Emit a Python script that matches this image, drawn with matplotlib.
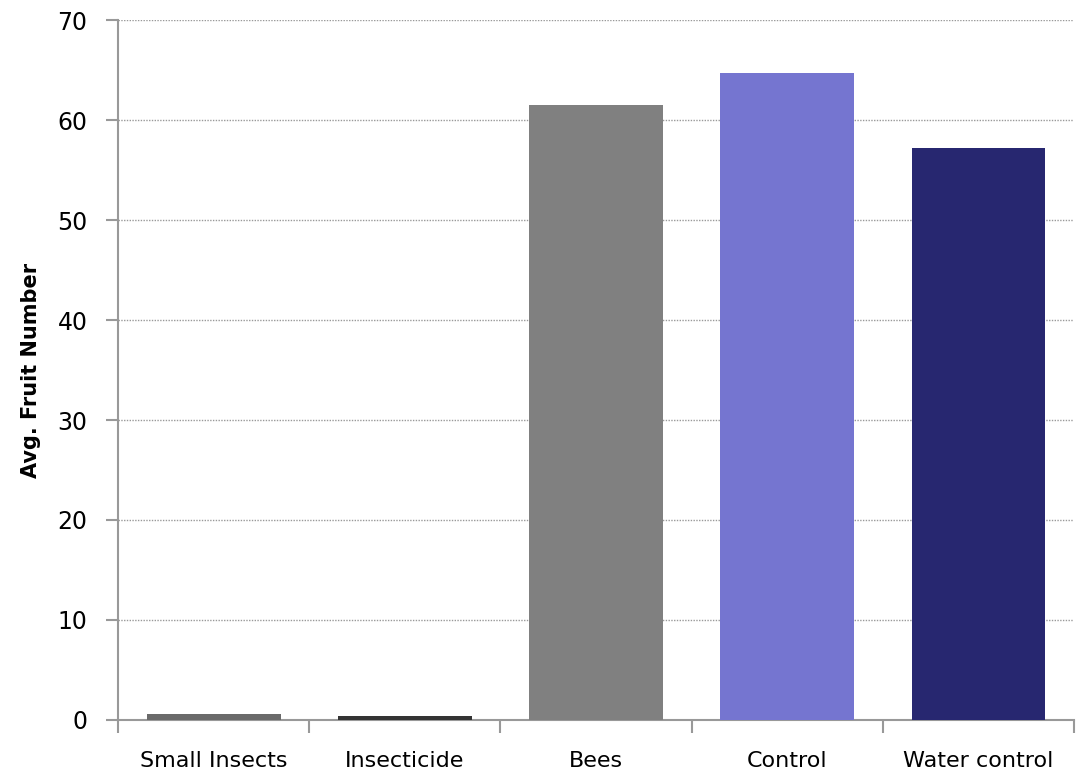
import matplotlib.pyplot as plt
import numpy as np

categories = ['Small Insects', 'Insecticide', 'Bees', 'Control', 'Water control']
fruit_avg = [0.6, 0.4, 61.5, 64.7, 57.2]
bar_colors = ['#6a6a6a', '#333333', '#808080', '#7575d0', '#272770']

fig = plt.figure(figsize=(10.87, 7.74), dpi=100)
ax = fig.add_axes([0.1086, 0.0698, 0.8795, 0.9043])

x = np.arange(len(categories))
ax.bar(x, fruit_avg, width=0.70, color=bar_colors, zorder=3)

ax.set_xlim(-0.5, len(categories) - 0.5)
ax.set_ylim(0, 70)
ax.set_yticks(range(0, 71, 10))
ax.yaxis.grid(True, linestyle=(0, (1, 1)), color='#999999', linewidth=1)
ax.set_axisbelow(True)

# category labels between boundary ticks
ax.set_xticks(np.arange(-0.5, len(categories), 1.0))
ax.set_xticklabels([])
ax.set_xticks(x, minor=True)
ax.set_xticklabels(categories, minor=True, fontsize=16)
ax.tick_params(axis='x', which='minor', length=0, pad=22)
ax.tick_params(axis='x', which='major', length=9, color='#999999', width=1.5)
ax.tick_params(axis='y', length=9, color='#999999', width=1.5, labelsize=17, pad=13)

for s in ['top', 'right']:
    ax.spines[s].set_visible(False)
for s in ['left', 'bottom']:
    ax.spines[s].set_color('#999999')
    ax.spines[s].set_linewidth(1.5)

ax.set_ylabel('Avg. Fruit Number', fontsize=15, fontweight='bold', labelpad=12)

plt.savefig('out.png')
